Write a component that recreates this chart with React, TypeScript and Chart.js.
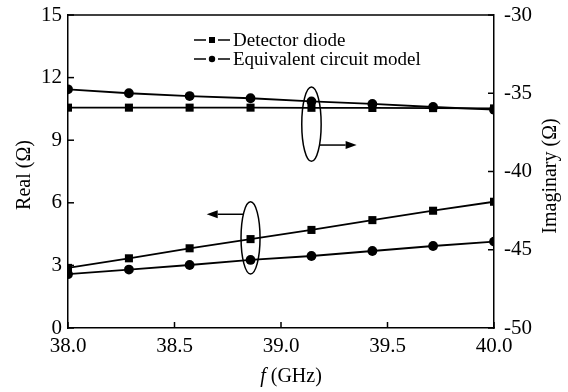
import { useEffect, useRef } from "react";
import { Chart, registerables } from "chart.js";

Chart.register(...registerables);

const freqGHz = [38.0, 38.286, 38.571, 38.857, 39.143, 39.429, 39.714, 40.0];
const realDiode = [2.88, 3.34, 3.82, 4.26, 4.7, 5.17, 5.62, 6.05];
const realModel = [2.58, 2.8, 3.02, 3.26, 3.45, 3.69, 3.93, 4.14];
const imagDiode = [-35.92, -35.92, -35.92, -35.92, -35.93, -35.94, -35.95, -35.97];
const imagModel = [-34.75, -35.0, -35.18, -35.32, -35.52, -35.68, -35.88, -36.05];
const legendLabels = ["Detector diode", "Equivalent circuit model"];
const xTitleItalic = "f";
const xTitleRest = " (GHz)";
const yTitleLeft = "Real (\u03A9)";
const yTitleRight = "Imaginary (\u03A9)";

const FONT = '"Liberation Serif", "Times New Roman", serif';

const annotPlugin = {
  id: "annot",
  afterDraw(chart: any) {
    const { ctx, chartArea: a, scales } = chart;
    const x = scales.x, y = scales.y, y1 = scales.y1;
    ctx.save();
    ctx.strokeStyle = "#000";
    ctx.fillStyle = "#000";
    ctx.lineWidth = 1.5;
    const line = (x0: number, y0: number, x2: number, y2: number) => {
      ctx.beginPath();
      ctx.moveTo(x0, y0);
      ctx.lineTo(x2, y2);
      ctx.stroke();
    };
    // top border
    line(a.left, a.top, a.right, a.top);
    // inward ticks
    const T = 6;
    y.ticks.forEach((t: any) => {
      const py = y.getPixelForValue(t.value);
      line(a.left, py, a.left + T, py);
    });
    y1.ticks.forEach((t: any) => {
      const py = y1.getPixelForValue(t.value);
      line(a.right, py, a.right - T, py);
    });
    x.ticks.forEach((t: any) => {
      const px = x.getPixelForValue(t.value);
      line(px, a.bottom, px, a.bottom - T);
    });

    // ellipses + arrows
    const drawEllipse = (cx: number, top: number, bottom: number, rx: number) => {
      const cy = (top + bottom) / 2;
      const ry = (bottom - top) / 2;
      ctx.beginPath();
      ctx.ellipse(cx, cy, rx, ry, 0, 0, Math.PI * 2);
      ctx.stroke();
      return { cx, cy, rx, ry };
    };
    const edgeX = (e: any, py: number, dir: number) => {
      const k = (py - e.cy) / e.ry;
      return e.cx + dir * e.rx * Math.sqrt(Math.max(0, 1 - k * k));
    };
    const arrow = (x0: number, yy: number, tip: number) => {
      const dir = tip > x0 ? 1 : -1;
      const hl = 11;
      line(x0, yy, tip - dir * hl, yy);
      ctx.beginPath();
      ctx.moveTo(tip, yy);
      ctx.lineTo(tip - dir * hl, yy - 4);
      ctx.lineTo(tip - dir * hl, yy + 4);
      ctx.closePath();
      ctx.fill();
    };
    const e1 = drawEllipse(x.getPixelForValue(39.143), y1.getPixelForValue(-34.6), y1.getPixelForValue(-39.35), 9.7);
    const a1y = y1.getPixelForValue(-38.31);
    arrow(edgeX(e1, a1y, 1), a1y, x.getPixelForValue(39.355));
    const e2 = drawEllipse(x.getPixelForValue(38.857), y.getPixelForValue(6.05), y.getPixelForValue(2.59), 9.5);
    const a2y = y.getPixelForValue(5.45);
    arrow(edgeX(e2, a2y, -1), a2y, x.getPixelForValue(38.651));

    // legend
    ctx.font = `19px ${FONT}`;
    ctx.textBaseline = "middle";
    ctx.textAlign = "left";
    const lx0 = 194, lx1 = 230, lmid = 212;
    [40, 59].forEach((ly, i) => {
      line(lx0, ly, lmid - 6, ly);
      line(lmid + 6, ly, lx1, ly);
      if (i === 0) {
        ctx.fillRect(lmid - 3, ly - 3, 6, 6);
      } else {
        ctx.beginPath();
        ctx.arc(lmid, ly, 3.2, 0, Math.PI * 2);
        ctx.fill();
      }
      ctx.fillText(legendLabels[i], 233, ly + 1);
    });

    // axis titles
    ctx.font = `20px ${FONT}`;
    ctx.textAlign = "center";
    ctx.save();
    ctx.translate(25, 175);
    ctx.rotate(-Math.PI / 2);
    ctx.fillText(yTitleLeft, 0, 0);
    ctx.restore();
    ctx.save();
    ctx.translate(551, 176);
    ctx.rotate(-Math.PI / 2);
    ctx.fillText(yTitleRight, 0, 0);
    ctx.restore();

    // x title with italic f
    ctx.textAlign = "left";
    ctx.font = `italic 20px ${FONT}`;
    const w1 = ctx.measureText(xTitleItalic).width;
    ctx.font = `20px ${FONT}`;
    const w2 = ctx.measureText(xTitleRest).width;
    const startX = 291 - (w1 + w2) / 2;
    ctx.font = `italic 20px ${FONT}`;
    ctx.fillText(xTitleItalic, startX, 377);
    ctx.font = `20px ${FONT}`;
    ctx.fillText(xTitleRest, startX + w1, 377);

    ctx.restore();
  },
};

export default function App() {
  const ref = useRef<HTMLCanvasElement | null>(null);
  useEffect(() => {
    document.body.style.margin = "0";
    const canvas = ref.current;
    if (!canvas) return;
    const mk = (vals: number[]) => vals.map((v, i) => ({ x: freqGHz[i], y: v }));
    const base = {
      borderColor: "#000",
      backgroundColor: "#000",
      borderWidth: 1.8,
      pointBorderWidth: 0,
      showLine: true,
      tension: 0,
    };
    const tickFont = { family: FONT, size: 21 };
    const chart = new Chart(canvas, {
      type: "line",
      data: {
        datasets: [
          { ...base, label: legendLabels[0], data: mk(realDiode), yAxisID: "y", pointStyle: "rect", pointRadius: 5.7 },
          { ...base, label: legendLabels[1], data: mk(realModel), yAxisID: "y", pointStyle: "circle", pointRadius: 4.9 },
          { ...base, label: legendLabels[0] + " (Im)", data: mk(imagDiode), yAxisID: "y1", pointStyle: "rect", pointRadius: 5.7 },
          { ...base, label: legendLabels[1] + " (Im)", data: mk(imagModel), yAxisID: "y1", pointStyle: "circle", pointRadius: 4.9 },
        ],
      },
      options: {
        animation: false,
        responsive: false,
        layout: { padding: { top: 15, left: 0, right: 0, bottom: 0 } },
        plugins: { legend: { display: false }, tooltip: { enabled: false } },
        scales: {
          x: {
            type: "linear",
            min: 38,
            max: 40,
            ticks: {
              stepSize: 0.5,
              callback: (v: any) => Number(v).toFixed(1),
              font: tickFont,
              color: "#000",
              padding: 6,
              maxRotation: 0,
            },
            grid: { drawOnChartArea: false, drawTicks: false },
            border: { color: "#000", width: 1.5 },
            afterFit: (s: any) => {
              s.height = 64;
              s.paddingLeft = 0;
              s.paddingRight = 0;
            },
          },
          y: {
            position: "left",
            min: 0,
            max: 15,
            ticks: { stepSize: 3, font: tickFont, color: "#000", padding: 6 },
            grid: { drawOnChartArea: false, drawTicks: false },
            border: { color: "#000", width: 1.5 },
            afterFit: (s: any) => {
              s.width = 68;
              s.paddingTop = 0;
              s.paddingBottom = 0;
            },
          },
          y1: {
            position: "right",
            min: -50,
            max: -30,
            ticks: { stepSize: 5, font: tickFont, color: "#000", padding: 10 },
            grid: { drawOnChartArea: false, drawTicks: false },
            border: { color: "#000", width: 1.5 },
            afterFit: (s: any) => {
              s.width = 74;
              s.paddingTop = 0;
              s.paddingBottom = 0;
            },
          },
        },
      } as any,
      plugins: [annotPlugin],
    });
    return () => chart.destroy();
  }, []);
  return (
    <div style={{ width: 568, height: 392, background: "#fff" }}>
      <canvas ref={ref} width={568} height={392} />
    </div>
  );
}
